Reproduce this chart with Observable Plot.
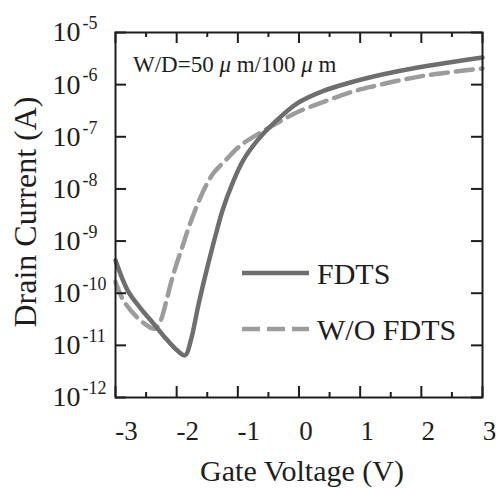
<!DOCTYPE html>
<html><head><meta charset="utf-8">
<script src="https://cdn.jsdelivr.net/npm/d3@7"></script>
<script src="https://cdn.jsdelivr.net/npm/@observablehq/plot@0.6"></script>
<style>
body{margin:0;background:#fff;}
#wrap{position:relative;width:498px;height:488px;overflow:hidden;font-family:"Liberation Serif","Times New Roman",serif;}
#overlay{position:absolute;left:0;top:0;pointer-events:none;}
</style></head><body><div id="wrap"></div>
<script>
// ---- data ----
const seriesNames = ["FDTS", "W/O FDTS"];
const fdtsVoltage = [-3.00,-2.80,-2.59,-2.38,-2.22,-1.99,-1.86,-1.77,-1.64,-1.50,-1.33,-1.25,-1.09,-0.91,-0.68,-0.43,-0.03,0.40,0.84,1.38,1.94,2.48,3.00];
const fdtsCurrent = [4.27e-10,1.12e-10,5.13e-11,2.63e-11,1.55e-11,7.94e-12,6.46e-12,1.23e-11,6.31e-11,3.09e-10,1.82e-9,3.89e-9,1.26e-8,3.55e-8,8.51e-8,1.74e-7,4.37e-7,7.59e-7,1.10e-6,1.58e-6,2.14e-6,2.69e-6,3.31e-6];
const woVoltage = [-3.00,-2.87,-2.64,-2.43,-2.35,-2.26,-2.18,-2.07,-1.91,-1.77,-1.56,-1.40,-1.20,-0.96,-0.63,-0.35,-0.03,0.47,0.92,1.22,1.63,2.04,2.48,3.00];
const woCurrent = [1.66e-10,7.24e-11,3.39e-11,2.19e-11,2.09e-11,3.02e-11,6.31e-11,2.0e-10,7.59e-10,2.34e-9,9.33e-9,2.0e-8,3.55e-8,6.76e-8,1.20e-7,1.86e-7,2.95e-7,5.01e-7,7.59e-7,9.33e-7,1.20e-6,1.48e-6,1.74e-6,2.04e-6];
const xTicks = [-3,-2,-1,0,1,2,3];
const xMinorTicks = [-2.5,-1.5,-0.5,0.5,1.5,2.5];
const yExponents = [-5,-6,-7,-8,-9,-10,-11,-12];
const annotationParts = ["W/D=50 ", "μ", " m/100 ", "μ", " m"];
const xTitle = "Gate Voltage (V)";
const yTitle = "Drain Current (A)";

// ---- layout ----
const W = 498, H = 488, mL = 115, mR = 16, mT = 32, mB = 91;
const innerW = W - mL - mR, innerH = H - mT - mB;
const FONT = "Liberation Serif, Times New Roman, serif";
const INK = "#1e1e1e";
const C_FDTS = "#6e6e70", C_WO = "#9c9c9c";
const DASH = "17,8";

const fdts = fdtsVoltage.map((v, i) => ({v, c: fdtsCurrent[i]}));
const wo = woVoltage.map((v, i) => ({v, c: woCurrent[i]}));

const plot = Plot.plot({
  width: W, height: H,
  marginLeft: mL, marginRight: mR, marginTop: mT, marginBottom: mB,
  style: {fontFamily: FONT, background: "white", overflow: "visible"},
  x: {domain: [-3, 3], axis: null},
  y: {type: "log", domain: [1e-12, 1e-5], axis: null},
  marks: [
    Plot.line(wo, {x: "v", y: "c", stroke: C_WO, strokeWidth: 4.5, strokeDasharray: DASH, curve: "catmull-rom"}),
    Plot.line(fdts, {x: "v", y: "c", stroke: C_FDTS, strokeWidth: 4.5, curve: "catmull-rom"}),
    // inward ticks: bottom & top
    Plot.tickX(xTicks, {x: d => d, insetTop: innerH - 11, stroke: INK, strokeWidth: 2}),
    Plot.tickX(xMinorTicks, {x: d => d, insetTop: innerH - 5, stroke: INK, strokeWidth: 2}),
    Plot.tickX(xTicks, {x: d => d, insetBottom: innerH - 11, stroke: INK, strokeWidth: 2}),
    Plot.tickX(xMinorTicks, {x: d => d, insetBottom: innerH - 5, stroke: INK, strokeWidth: 2}),
    // inward ticks: left & right
    Plot.tickY(yExponents, {y: e => Math.pow(10, e), insetRight: innerW - 11, stroke: INK, strokeWidth: 2}),
    Plot.tickY(yExponents, {y: e => Math.pow(10, e), insetLeft: innerW - 11, stroke: INK, strokeWidth: 2}),
    Plot.frame({stroke: INK, strokeWidth: 2}),
    // y tick labels 10^e
    Plot.text(yExponents, {y: e => Math.pow(10, e), text: () => "10", frameAnchor: "left", textAnchor: "start", dx: -63, fontSize: 28, fill: INK, fontFamily: FONT}),
    Plot.text(yExponents, {y: e => Math.pow(10, e), text: e => String(e), frameAnchor: "left", textAnchor: "start", dx: -33, dy: -9, fontSize: 18, fill: INK, fontFamily: FONT}),
    // x tick labels
    Plot.text(xTicks.filter(d => d < 0), {x: d => d, text: d => String(d), frameAnchor: "bottom", textAnchor: "middle", dy: 42, dx: 11, fontSize: 27, fill: INK, fontFamily: FONT}),
    Plot.text(xTicks.filter(d => d >= 0), {x: d => d, text: d => String(d), frameAnchor: "bottom", textAnchor: "middle", dy: 42, dx: 7, fontSize: 27, fill: INK, fontFamily: FONT}),
    // axis titles
    Plot.text([xTitle], {text: d => d, frameAnchor: "bottom", textAnchor: "middle", dy: 83, dx: 3, fontSize: 30, fill: INK, fontFamily: FONT}),
    Plot.text([yTitle], {text: d => d, frameAnchor: "left", textAnchor: "middle", rotate: -90, dx: -90, dy: -3, fontSize: 32, fill: INK, fontFamily: FONT})
  ]
});

const wrap = document.getElementById("wrap");
wrap.appendChild(plot);

// ---- legend + annotation overlay ----
const ns = "http://www.w3.org/2000/svg";
const ov = document.createElementNS(ns, "svg");
ov.setAttribute("id", "overlay");
ov.setAttribute("width", W); ov.setAttribute("height", H);
function el(tag, attrs, txt) {
  const e = document.createElementNS(ns, tag);
  for (const k in attrs) e.setAttribute(k, attrs[k]);
  if (txt != null) e.textContent = txt;
  ov.appendChild(e); return e;
}
// annotation
const ann = el("text", {x: 133, y: 72, "font-size": 23, "font-family": FONT, fill: INK});
ann.style.whiteSpace = "pre";
annotationParts.forEach(p => {
  const t = document.createElementNS(ns, "tspan");
  if (p === "μ") t.setAttribute("font-style", "italic");
  t.textContent = p; ann.appendChild(t);
});
// legend
const legendStyles = [{stroke: C_FDTS, dash: null}, {stroke: C_WO, dash: "18,7"}];
seriesNames.forEach((name, i) => {
  const y = 273 + i * 56;
  const attrs = {x1: 242, x2: 309, y1: y, y2: y, stroke: legendStyles[i].stroke, "stroke-width": 4.5};
  if (legendStyles[i].dash) attrs["stroke-dasharray"] = legendStyles[i].dash;
  el("line", attrs);
  el("text", {x: 317, y: y + 11, "font-size": 30, "font-family": FONT, fill: INK}, name);
});
wrap.appendChild(ov);
</script>
</body></html>
